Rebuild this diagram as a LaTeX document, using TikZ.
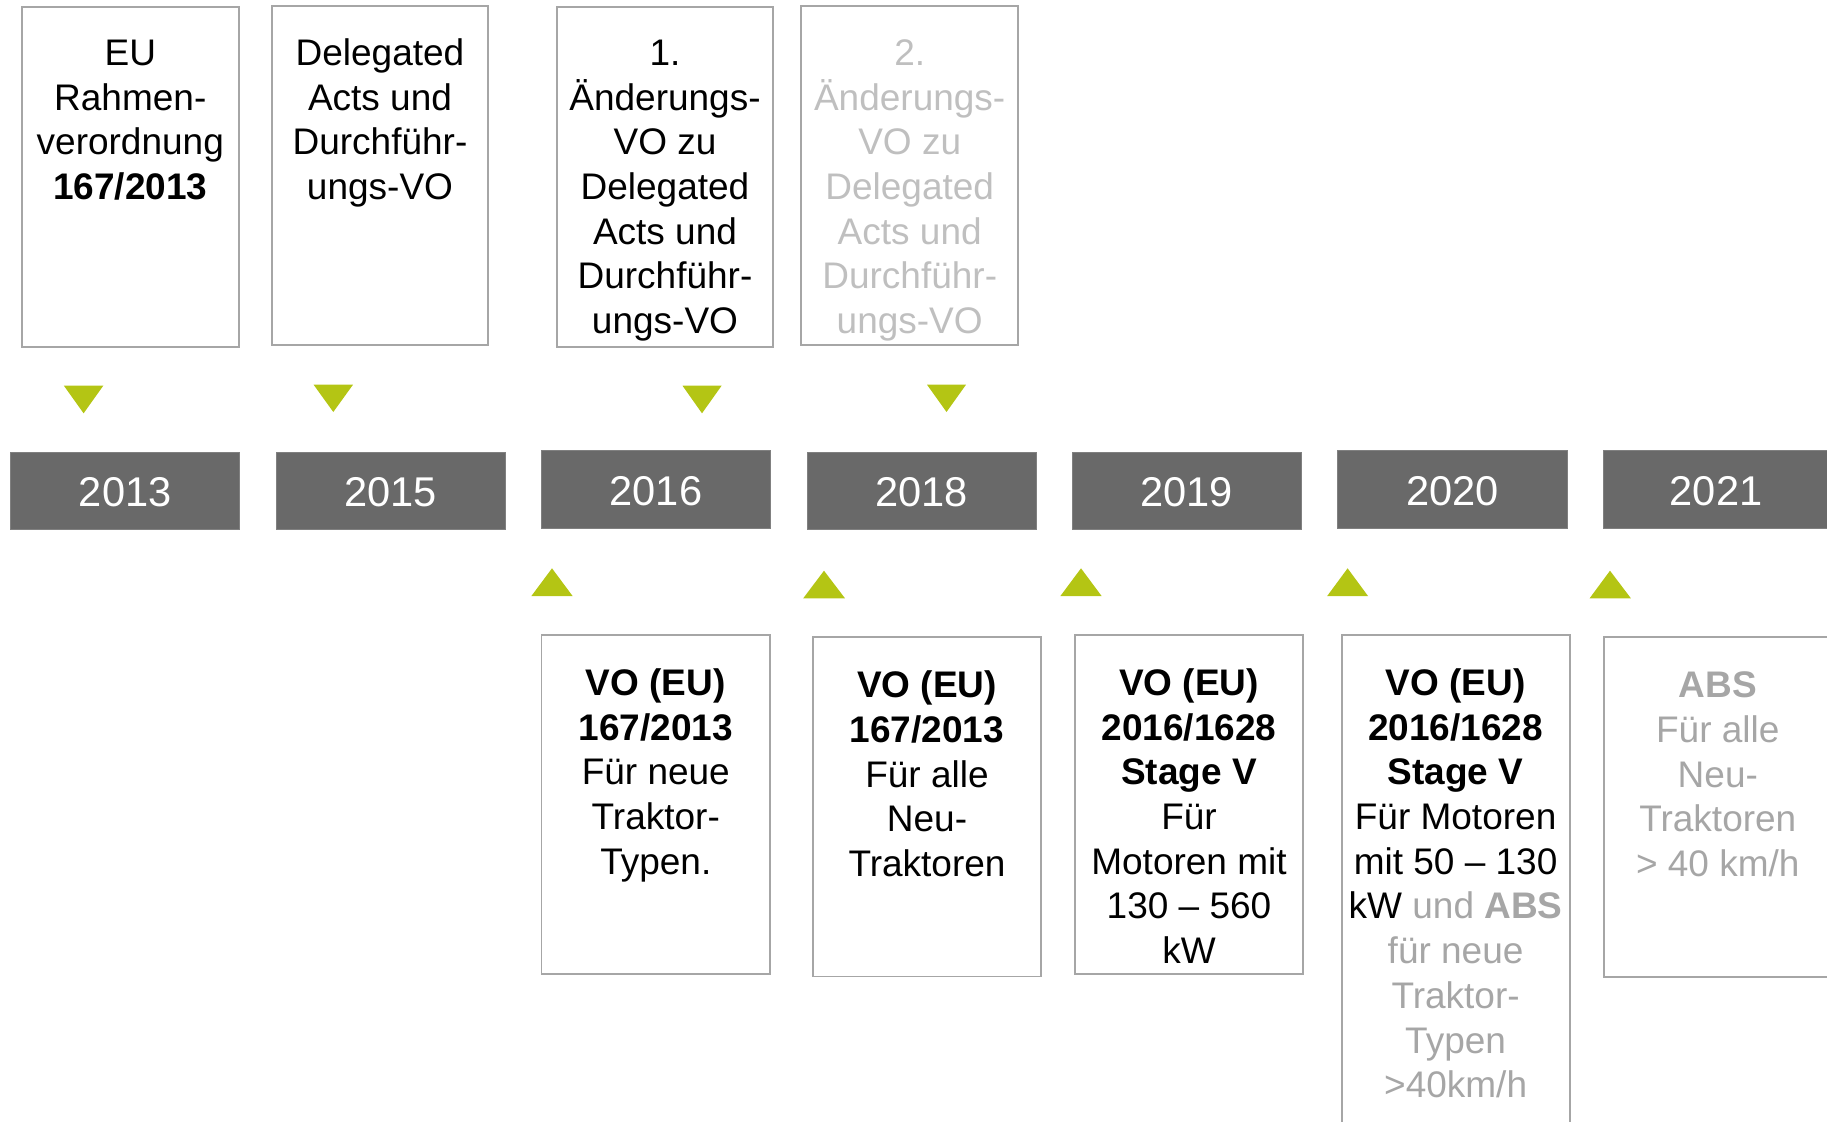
\documentclass[tikz,border=0pt]{standalone}
\usepackage{fontspec}
\setmainfont{Liberation Sans}
\definecolor{boxgray}{HTML}{A6A6A6}
\definecolor{bargray}{HTML}{696969}
\definecolor{lime}{HTML}{B4C514}
\definecolor{txtgray}{HTML}{A6A6A6}
\definecolor{txtlight}{HTML}{BFBFBF}
\newcommand{\firstln}{\rule{0pt}{20pt}}
\begin{document}
\begin{tikzpicture}[x=0.5pt,y=-0.5pt,
  frame/.style={draw=boxgray, line width=0.9pt},
  barbox/.style={fill=bargray, draw=bargray!85!white, line width=0.5pt},
  yeartxt/.style={text=white, font=\fontsize{20.8}{25}\selectfont, inner sep=0pt},
  txt/.style={align=center, anchor=north, inner sep=0pt, font=\fontsize{18.5}{22.35}\selectfont},
  tri/.style={fill=lime}
]
\useasboundingbox (0,0) rectangle (1827,1121);
\clip (0,0) rectangle (1827,1121);

% top boxes
\draw[frame] (22,7.3) rectangle (238.7,346.7);
\node[txt] (a1) at (130.3,25) {\firstln EU\\Rahmen-\\verordnung\\\textbf{167/2013}};
\draw[frame] (271.7,5.7) rectangle (488.3,345.3);
\node[txt] (a2) at (380,25) {\firstln Delegated\\Acts und\\Durchführ-\\ungs-VO};
\draw[frame] (556.7,7.3) rectangle (773.3,346.7);
\node[txt] (a3) at (665,25) {\firstln 1.\\Änderungs-\\VO zu\\Delegated\\Acts und\\Durchführ-\\ungs-VO};
\draw[frame] (801,5.7) rectangle (1018.3,345.3);
\node[txt, text=txtlight] (a4) at (909.7,25) {\firstln 2.\\Änderungs-\\VO zu\\Delegated\\Acts und\\Durchführ-\\ungs-VO};

% down markers
\fill[tri] (63.9,385.7) -- (103.3,385.7) -- (83.6,413.3) -- cycle;
\fill[tri] (313.6,384.7) -- (353,384.7) -- (333.3,412) -- cycle;
\fill[tri] (682.5,385.7) -- (721.6,385.7) -- (702,413.3) -- cycle;
\fill[tri] (927,384.7) -- (966,384.7) -- (946.5,412) -- cycle;

% year bars
\draw[barbox] (10.7,452.3) rectangle (239.6,529.3);
\node[yeartxt] (y2013) at (125.15,492.3) {2013};
\draw[barbox] (276.3,452.3) rectangle (505,529.3);
\node[yeartxt] (y2015) at (390.65,492.3) {2015};
\draw[barbox] (541.5,450.7) rectangle (770.4,528.7);
\node[yeartxt] (y2016) at (655.95,491.2) {2016};
\draw[barbox] (807,452.3) rectangle (1036,529.7);
\node[yeartxt] (y2018) at (921.5,492.5) {2018};
\draw[barbox] (1072.2,452.3) rectangle (1301.2,529.7);
\node[yeartxt] (y2019) at (1186.7,492.5) {2019};
\draw[barbox] (1337.8,450.7) rectangle (1567,528.7);
\node[yeartxt] (y2020) at (1452.4,491.2) {2020};
\draw[barbox] (1603.6,450.7) rectangle (1840,528.7);
\node[yeartxt] (y2021) at (1716,491.2) {2021};

% up markers
\fill[tri] (531.4,596) -- (572.6,596) -- (552,568.3) -- cycle;
\fill[tri] (803.2,598.3) -- (845,598.3) -- (824,570.7) -- cycle;
\fill[tri] (1060.4,596) -- (1101.6,596) -- (1081,568.3) -- cycle;
\fill[tri] (1327.2,596) -- (1368,596) -- (1347.6,568.3) -- cycle;
\fill[tri] (1589.6,598.3) -- (1630.9,598.3) -- (1610,570.7) -- cycle;

% bottom boxes
\draw[frame] (541.5,635) rectangle (770,974);
\node[txt] (b1) at (655.8,655) {\firstln\textbf{VO (EU)}\\\textbf{167/2013}\\Für neue\\Traktor-\\Typen.};
\draw[frame] (813,637.3) rectangle (1041,976.5);
\node[txt] (b2) at (927,657.3) {\firstln\textbf{VO (EU)}\\\textbf{167/2013}\\Für alle\\Neu-\\Traktoren};
\draw[frame] (1074.7,635) rectangle (1303.3,974);
\node[txt] (b3) at (1189,655) {\firstln\textbf{VO (EU)}\\\textbf{2016/1628}\\\textbf{Stage V}\\Für\\Motoren mit\\130 – 560\\kW};
\draw[frame] (1341.6,635) rectangle (1569.6,1140);
\node[txt] (b4) at (1455.6,655) {\firstln\textbf{VO (EU)}\\\textbf{2016/1628}\\\textbf{Stage V}\\Für Motoren\\mit 50 – 130\\kW \textcolor{txtgray}{und \textbf{ABS}}\\\textcolor{txtgray}{für neue}\\\textcolor{txtgray}{Traktor-}\\\textcolor{txtgray}{Typen}\\\textcolor{txtgray}{>40km/h}};
\draw[frame] (1603.6,637.3) rectangle (1832,976.7);
\node[txt, text=txtgray] (b5) at (1717.8,657.3) {\firstln\textbf{ABS}\\Für alle\\Neu-\\Traktoren\\> 40 km/h};
\end{tikzpicture}
\end{document}
